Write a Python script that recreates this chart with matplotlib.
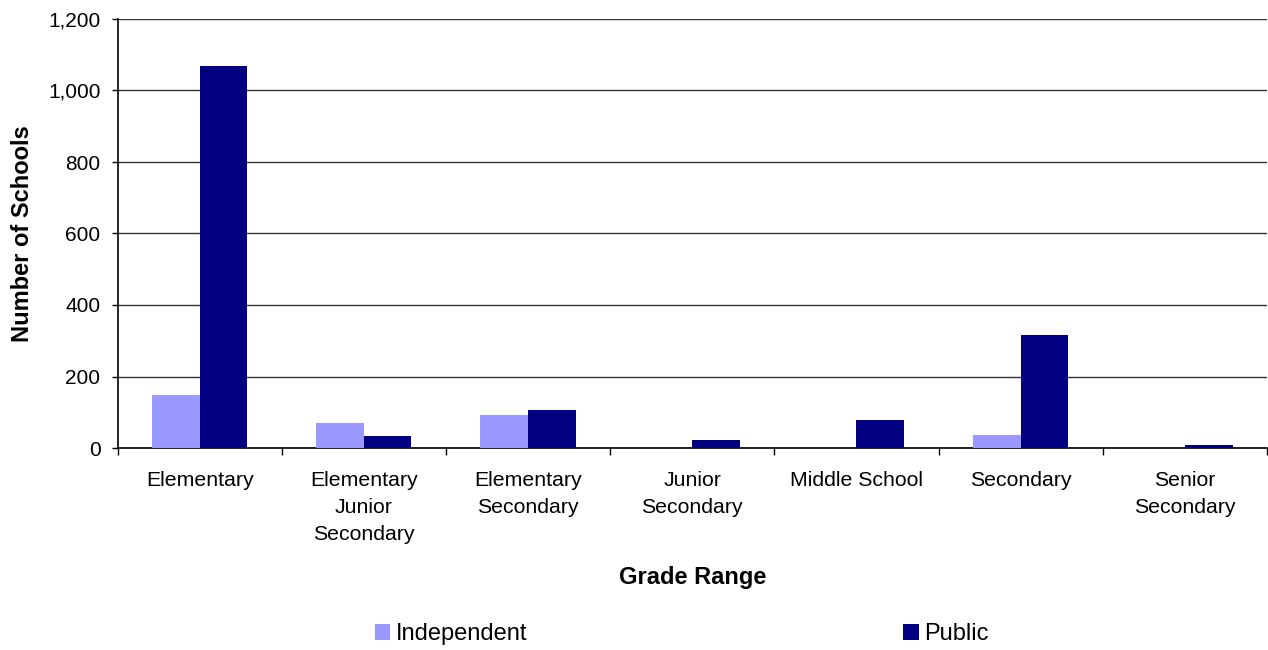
import numpy as np
import matplotlib
matplotlib.use("Agg")
import matplotlib.pyplot as plt
from matplotlib.ticker import FuncFormatter

plt.rcParams['font.family'] = ['Liberation Sans', 'DejaVu Sans']

# data
categories = ['Elementary', 'Elementary\nJunior\nSecondary', 'Elementary\nSecondary',
              'Junior\nSecondary', 'Middle School', 'Secondary', 'Senior\nSecondary']
independent = [149, 71, 91, 0, 0, 37, 0]
public = [1069, 34, 107, 21, 79, 317, 8]

fig = plt.figure(figsize=(12.68, 6.5), dpi=100)
ax = fig.add_axes([117.5 / 1268, 202 / 650, (1267 - 117.5) / 1268, 429 / 650])

x = np.arange(len(categories))
w = 0.29
ax.bar(x - w / 2, independent, w, color='#9999FF', label='Independent', zorder=3)
ax.bar(x + w / 2, public, w, color='#000080', label='Public', zorder=3)

ax.set_xlim(-0.5, len(categories) - 0.5)
ax.set_ylim(0, 1200)
ax.set_yticks(np.arange(0, 1201, 200))
ax.yaxis.set_major_formatter(FuncFormatter(lambda v, p: f'{int(v):,}'))
ax.grid(axis='y', color='#333333', lw=1, zorder=0)

# category labels at centres, tick marks at the boundaries
ax.set_xticks(x)
ax.set_xticklabels(categories, fontsize=15.3, linespacing=1.55)
ax.set_xticks(np.arange(-0.5, len(categories)), minor=True)
ax.tick_params(axis='x', which='major', length=0, pad=16.5)
ax.tick_params(axis='x', which='minor', length=5, width=1, color='black', direction='out')
ax.tick_params(axis='y', length=4.3, width=1, pad=8, labelsize=15, direction='out')

for s in ['top', 'right']:
    ax.spines[s].set_visible(False)
for s in ['left', 'bottom']:
    ax.spines[s].set_color('black')
    ax.spines[s].set_linewidth(1.2)

ax.set_xlabel('Grade Range', fontsize=17, fontweight='bold')
ax.set_ylabel('Number of Schools', fontsize=17, fontweight='bold')
ax.xaxis.set_label_coords(0.5, -0.275)
ax.yaxis.set_label_coords(-0.073, 0.5)

fig.legend(loc='center', bbox_to_anchor=(682 / 1268, 16 / 650), ncol=2, frameon=False,
           fontsize=17, handlelength=0.65, handleheight=0.65, handletextpad=0.25,
           columnspacing=15.9, borderpad=0)

fig.savefig('out.png', dpi=100)
